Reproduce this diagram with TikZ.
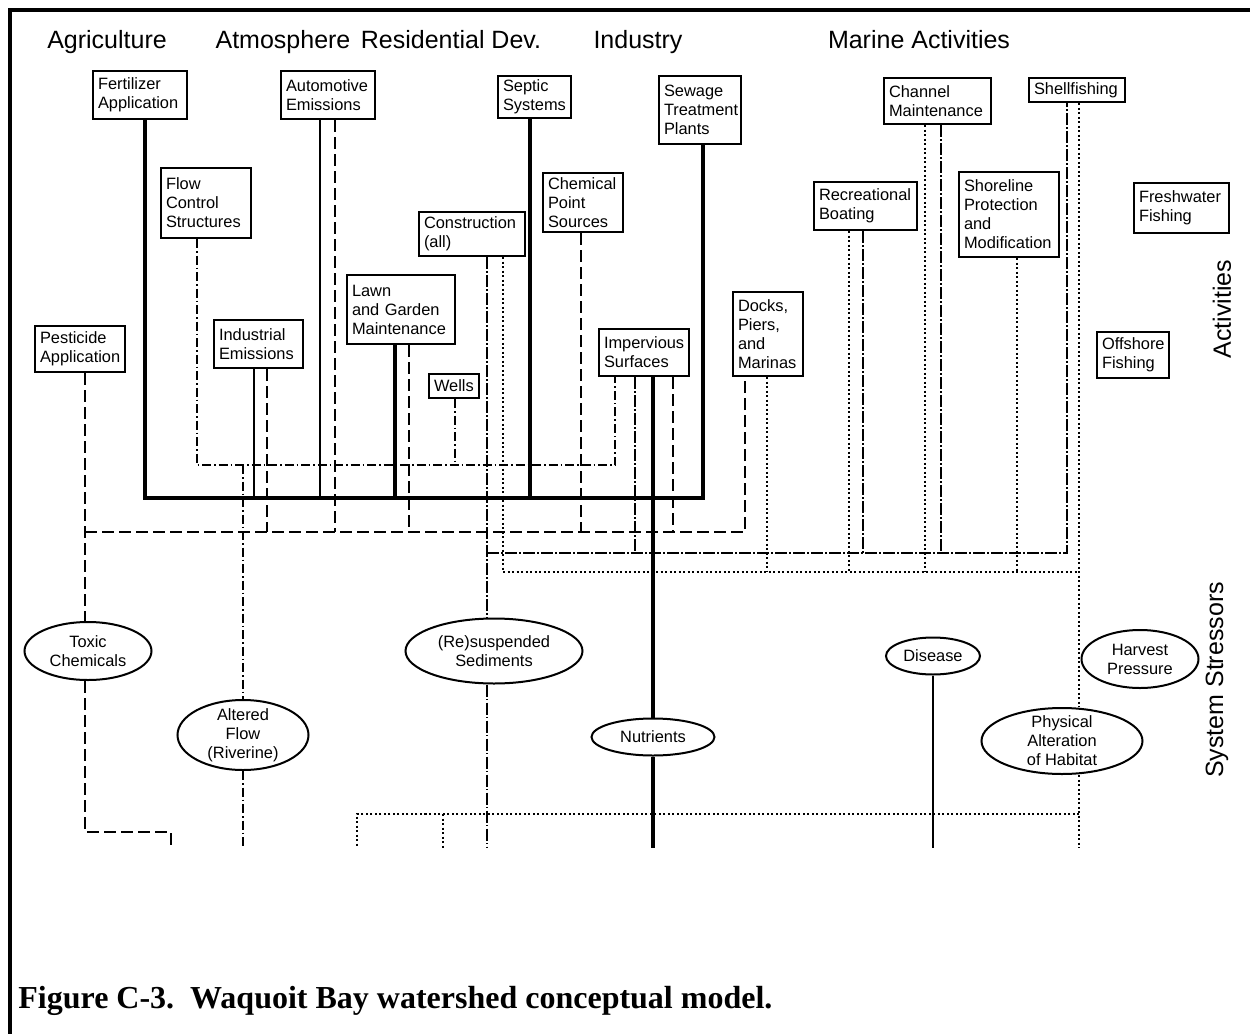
\documentclass[tikz,border=0pt]{standalone}
\usepackage{fontspec}
\setmainfont{Liberation Sans}
\newfontfamily\capfont{Liberation Serif}
\usetikzlibrary{shapes.geometric,calc}
\newcommand\bxf{\fontsize{8.2}{9.5}\selectfont}
\newcommand\hdf{\fontsize{12.5}{15}\selectfont}
\tikzset{
  bx/.style 2 args={draw, line width=1pt, rectangle, inner xsep=2.5pt, inner ysep=0pt,
     text width=#1, minimum height=#2, align=left, font=\bxf},
  ell/.style 2 args={draw, line width=1pt, ellipse, inner sep=0pt, minimum width=#1, minimum height=#2, fill=white},
  etxt/.style={inner sep=0pt, align=center, font=\bxf},
  hdr/.style={inner sep=0pt, font=\hdf},
  thickln/.style={line width=2pt, line join=miter},
  thinln/.style={line width=1pt},
  toxln/.style={line width=1pt, dash pattern=on 6pt off 2.5pt},
  flowln/.style={line width=1pt, dash pattern=on 4.5pt off 1.5pt on 0.75pt off 1.5pt},
  sedln/.style={line width=1pt, dash pattern=on 6pt off 1.2pt on 0.6pt off 1.2pt},
  habln/.style={line width=1pt, dash pattern=on 1pt off 1.25pt},
}
\begin{document}
\begin{tikzpicture}[x=0.5pt,y=-0.5pt]
\useasboundingbox (0,0) rectangle (1250,1034);
% frame
\draw[line width=2pt] (10,1034) -- (10,10) -- (1250,10);
% headers
\node[hdr, anchor=base] (hAg) at (107,48) {Agriculture};
\node[hdr, anchor=base] (hAt) at (283,48) {Atmosphere};
\node[hdr, anchor=base] (hRe) at (451,48) {Residential Dev.};
\node[hdr, anchor=base] (hIn) at (638,48) {Industry};
\node[hdr, anchor=base] (hMa) at (919,48) {Marine Activities};
\node[hdr, rotate=90] (act) at (1222,309) {Activities};
\node[hdr, rotate=90] (sys) at (1217,680) {System Stressors};
% boxes
\node[bx={42pt}{24pt}] (fert) at (140,95) {Fertilizer\\Application};
\node[bx={42pt}{24pt}] (auto) at (328,95) {Automotive\\Emissions};
\node[bx={31.5pt}{21pt}] (septic) at (534.5,97) {Septic\\Systems};
\node[bx={36pt}{34pt}] (sewage) at (700,110) {Sewage\\Treatment\\Plants};
\node[bx={48.5pt}{23pt}] (channel) at (937.5,101) {Channel\\Maintenance};
\node[bx={43pt}{12pt}] (shell) at (1077,90) {Shellfishing};
\node[bx={40pt}{35pt}] (flow) at (206,203) {Flow\\Control\\Structures};
\node[bx={35pt}{29.5pt}] (chem) at (583,202.5) {Chemical\\Point\\Sources};
\node[bx={48pt}{22pt}] (constr) at (472,234) {Construction\\(all)};
\node[bx={46.5pt}{24pt}] (recr) at (865.5,206) {Recreational\\Boating};
\node[bx={45pt}{42.5pt}] (shore) at (1009,214.5) {Shoreline\\Protection\\and\\Modification};
\node[bx={42.5pt}{25pt}] (fresh) at (1181.5,208) {Freshwater\\Fishing};
\node[bx={40pt}{23pt}] (pest) at (80,349) {Pesticide\\Application};
\node[bx={39.5pt}{24pt}] (indem) at (258.5,344) {Industrial\\Emissions};
\node[bx={49pt}{34.5pt}] (lawn) at (401,309.5) {Lawn\\and Garden\\Maintenance};
\node[bx={20pt}{12pt}] (wells) at (454,386) {Wells};
\node[bx={40pt}{23.5pt}] (imperv) at (644,352.5) {Impervious\\Surfaces};
\node[bx={30pt}{42pt}] (docks) at (768,334) {Docks,\\Piers,\\and\\Marinas};
\node[bx={31pt}{23pt}] (offsh) at (1133,355) {Offshore\\Fishing};
% ellipses
\node[ell={63.5pt}{29pt}] (tox) at (88,651) {};
\node[etxt] (toxT) at (tox.center) {Toxic\\Chemicals};
\node[ell={65.5pt}{35pt}] (alt) at (243,735) {};
\node[etxt] (altT) at (alt.center) {Altered\\Flow\\(Riverine)};
\node[ell={88.5pt}{32.5pt}] (sed) at (494,651) {};
\node[etxt] (sedT) at (sed.center) {(Re)suspended\\Sediments};
\node[ell={61.5pt}{18.5pt}] (nutr) at (653,737) {};
\node[etxt] (nutrT) at (nutr.center) {Nutrients};
\node[ell={47pt}{18.5pt}] (dis) at (933,656) {};
\node[etxt] (disT) at (dis.center) {Disease};
\node[ell={58.5pt}{29pt}] (harv) at (1140,659) {};
\node[etxt] (harvT) at (harv.center) {Harvest\\Pressure};
\node[ell={80.5pt}{33pt}] (hab) at (1062,741) {};
\node[etxt] (habT) at (hab.center) {Physical\\Alteration\\of Habitat};
% caption
\node[anchor=base west, inner sep=0pt, font=\capfont\bfseries\fontsize{16}{19}\selectfont] (cap) at (18,1008) {Figure C-3.\ \ Waquoit Bay watershed conceptual model.};
% bus levels
\coordinate (busFlow) at (0,465);
\coordinate (busThick) at (0,498);
\coordinate (busTox) at (0,532);
\coordinate (busSed) at (0,553);
\coordinate (busHab) at (0,572);
\coordinate (busLow) at (0,814);
\coordinate (toxTurn) at (0,832);
\coordinate (bottom) at (0,848);
\coordinate (toxEnd) at (171,848);
\coordinate (low1) at (357,848);
\coordinate (low2) at (443,848);
% drop points
\coordinate (fertD) at ([xshift=2.5pt]fert.south);
\coordinate (septD) at ([xshift=-2.25pt]septic.south);
\coordinate (sewD) at ([xshift=1.5pt]sewage.south);
\coordinate (lawnD) at ([xshift=-3pt]lawn.south);
\coordinate (impD) at ([xshift=4.5pt]imperv.south);
\coordinate (autoS) at ([xshift=-4pt]auto.south);
\coordinate (indS) at ([xshift=-2.25pt]indem.south);
\coordinate (pestD) at ([xshift=2.5pt]pest.south);
\coordinate (indT) at ([xshift=4.25pt]indem.south);
\coordinate (autoT) at ([xshift=3.5pt]auto.south);
\coordinate (lawnT) at ([xshift=4pt]lawn.south);
\coordinate (chemT) at ([xshift=-1pt]chem.south);
\coordinate (impT) at ([xshift=14.5pt]imperv.south);
\coordinate (dockT) at ([xshift=-11.5pt]docks.south);
\coordinate (flowD) at ([xshift=-4.5pt]flow.south);
\coordinate (impF) at ([xshift=-14.5pt]imperv.south);
\coordinate (wellD) at ([xshift=0.5pt]wells.south);
\coordinate (conS) at ([xshift=7.5pt]constr.south);
\coordinate (impS) at ([xshift=-4.5pt]imperv.south);
\coordinate (recS) at ([xshift=-1.25pt]recr.south);
\coordinate (chaS) at ([xshift=1.75pt]channel.south);
\coordinate (shS) at ([xshift=-5pt]shell.south);
\coordinate (conH) at ([xshift=15.5pt]constr.south);
\coordinate (dockH) at ([xshift=-0.5pt]docks.south);
\coordinate (recH) at ([xshift=-8.25pt]recr.south);
\coordinate (chaH) at ([xshift=-6.25pt]channel.south);
\coordinate (shoH) at ([xshift=4pt]shore.south);
\coordinate (shH) at ([xshift=1pt]shell.south);
% altered flow (dash-dot)
\draw[flowln] (flowD) -- (flowD |- busFlow) -- (impF |- busFlow) -- (impF);
\draw[flowln] (wellD) -- (wellD |- busFlow);
\draw[flowln] (alt.north |- busFlow) -- (alt.north);
\draw[flowln] (alt.south) -- (alt.south |- bottom);
% toxic chemicals (dashed)
\draw[toxln] (pestD) -- (pestD |- tox.north);
\draw[toxln] (pestD |- busTox) -- (dockT |- busTox) -- (dockT);
\draw[toxln] (indT) -- (indT |- busTox);
\draw[toxln] (autoT) -- (autoT |- busTox);
\draw[toxln] (lawnT) -- (lawnT |- busTox);
\draw[toxln] (chemT) -- (chemT |- busTox);
\draw[toxln] (impT) -- (impT |- busTox);
\draw[toxln] (pestD |- tox.south) -- (pestD |- toxTurn) -- (toxEnd |- toxTurn) -- (toxEnd);
% sediments
\draw[sedln] (conS) -- (conS |- sed.north);
\draw[sedln] (conS |- busSed) -- (shS |- busSed) -- (shS);
\draw[sedln] (impS) -- (impS |- busSed);
\draw[sedln] (recS) -- (recS |- busSed);
\draw[sedln] (chaS) -- (chaS |- busSed);
\draw[sedln] (conS |- sed.south) -- (conS |- bottom);
% habitat (dotted)
\draw[habln] (conH) -- (conH |- busHab) -- (shH |- busHab);
\draw[habln] (shH) -- (shH |- hab.north);
\draw[habln] (dockH) -- (dockH |- busHab);
\draw[habln] (recH) -- (recH |- busHab);
\draw[habln] (chaH) -- (chaH |- busHab);
\draw[habln] (shoH) -- (shoH |- busHab);
\draw[habln] (shH |- hab.south) -- (shH |- bottom);
\draw[habln] (shH |- busLow) -- (low1 |- busLow) -- (low1);
\draw[habln] (low2 |- busLow) -- (low2);
% nutrients (solid)
\draw[thinln] (autoS) -- (autoS |- busThick);
\draw[thinln] (indS) -- (indS |- busThick);
\draw[thinln] (dis.south) -- (dis.south |- bottom);
\draw[thickln] (fertD) -- (fertD |- busThick) -- (sewD |- busThick) -- (sewD);
\draw[thickln] (septD) -- (septD |- busThick);
\draw[thickln] (lawnD) -- (lawnD |- busThick);
\draw[thickln] (impD) -- (impD |- nutr.north);
\draw[thickln] (impD |- nutr.south) -- (impD |- bottom);
\end{tikzpicture}
\end{document}
